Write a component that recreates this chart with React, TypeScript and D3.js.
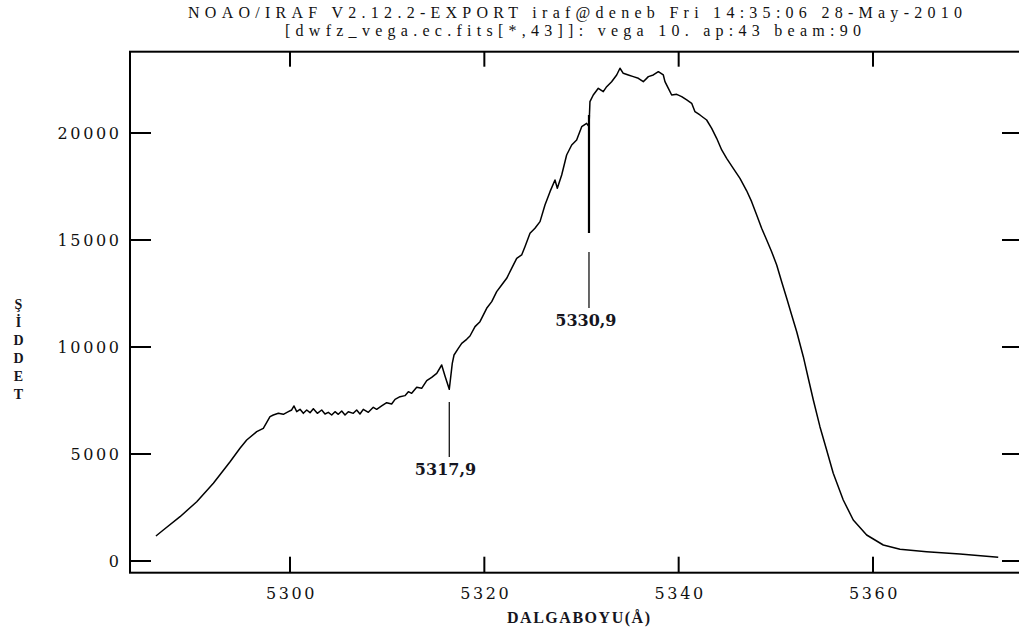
import React from "react";
import * as d3 from "d3";

const titleLines = [
  "NOAO/IRAF V2.12.2-EXPORT iraf@deneb Fri 14:35:06 28-May-2010",
  "[dwfz_vega.ec.fits[*,43]]: vega 10. ap:43 beam:90",
];
const xLabel = "DALGABOYU(Å)";
const yLabelLetters = ["Ş", "İ", "D", "D", "E", "T"];
const xTicks = [5300, 5320, 5340, 5360];
const yTicks = [0, 5000, 10000, 15000, 20000];

const wavelength = [
  5286.2, 5286.96, 5288.68, 5290.4, 5292.11, 5293.83, 5294.85, 5295.54, 5296.57, 5297.25, 5297.94,
  5298.28, 5298.8, 5299.31, 5299.83, 5300.17, 5300.41, 5300.69, 5301.03, 5301.37, 5301.72, 5302.06,
  5302.4, 5302.81, 5303.26, 5303.6, 5303.94, 5304.29, 5304.63, 5304.97, 5305.32, 5305.66, 5306.0,
  5306.51, 5306.86, 5307.2, 5307.54, 5308.06, 5308.57, 5308.92, 5309.43, 5309.95, 5310.46, 5310.81,
  5311.32, 5311.83, 5312.18, 5312.52, 5313.04, 5313.55, 5314.07, 5314.58, 5315.1, 5315.61, 5315.95,
  5316.39, 5316.7, 5316.88, 5317.32, 5317.67, 5318.18, 5318.52, 5319.04,
  5319.55, 5320.24, 5320.76, 5321.27, 5321.78, 5322.3, 5322.81, 5323.33, 5323.84, 5324.18, 5324.7,
  5325.21, 5325.73, 5326.24, 5326.76, 5327.27, 5327.51, 5327.96, 5328.47, 5328.99, 5329.5, 5330.02,
  5330.53, 5330.77, 5330.87, 5331.21, 5331.73, 5332.24, 5332.59, 5333.1, 5333.62, 5333.96, 5334.3,
  5334.82, 5335.33, 5335.85, 5336.36, 5336.88, 5337.39, 5337.91, 5338.42, 5338.59, 5338.94,
  5339.28, 5339.8, 5340.31, 5340.83, 5341.34, 5341.68, 5342.19, 5342.88, 5343.4, 5343.91, 5344.43,
  5344.94, 5345.62, 5346.31, 5347.0, 5347.51, 5348.03, 5348.54, 5349.06, 5349.57, 5350.09, 5350.6,
  5351.12, 5351.63, 5352.15, 5352.83, 5353.34, 5353.86, 5354.54, 5355.23, 5355.91, 5356.94, 5357.97,
  5359.35, 5361.06, 5362.78, 5365.52, 5368.95, 5372.89,
];
const intensity = [
  1168, 1449, 2070, 2771, 3631, 4640, 5267, 5654, 6042, 6201, 6745,
  6823, 6900, 6853, 6978, 7056, 7243, 6978, 7087, 6900, 7056, 6932,
  7118, 6900, 7056, 6869, 6947, 6823, 6978, 6853, 7010, 6823, 6978,
  6900, 7056, 6869, 7087, 6947, 7181, 7087, 7243, 7399, 7337, 7554,
  7679, 7727, 7912, 7835, 8115, 8069, 8427, 8583, 8770, 9159, 8645,
  8022, 9237, 9626, 9938, 10172, 10358, 10514, 10951,
  11184, 11808, 12119, 12586, 12897, 13210, 13677, 14145, 14299, 14688, 15312,
  15546, 15857, 16636, 17259, 17804, 17415, 18038, 18972, 19440, 19673, 20296,
  20452, 20296, 21464, 21776, 22089, 21931, 22165, 22398, 22711, 23024, 22790,
  22711, 22633, 22556, 22398, 22633, 22711, 22866, 22711, 22398, 22089,
  21776, 21808, 21698, 21543, 21387, 20997, 20842, 20608, 20219, 19752, 19206,
  18818, 18350, 17883, 17300, 16791, 16169, 15547, 15000, 14454, 13832, 13052,
  12276, 11496, 10715, 9547, 8538, 7524, 6276, 5187, 4098, 2851, 1916,
  1215, 748, 547, 435, 327, 173,
];

// line markers: label, wavelength of line, segments of the marker (intensity ranges), label position
const markerLabels = ["5317,9", "5330,9"];
const markerWave = [5316.39, 5330.77];
const markerSegments = [
  [[7430, 4860, 1.2]],
  [[20841, 15327, 2.2], [14440, 11823, 1.2]],
];
const markerLabelWave = [5316.0, 5330.45];
const markerLabelInt = [4019, 10982];

export default function App() {
  const W = 1019;
  const H = 637;
  const left = 130, right = 1023, top = 51.7, bottom = 572.7;
  const x = d3.scaleLinear().domain([5283.53, 5375.44]).range([left, right]);
  const y = d3.scaleLinear().domain([-547, 23799]).range([bottom, top]);
  const pts = wavelength.map((w, i) => [w, intensity[i]] as [number, number]);
  const line = d3.line<[number, number]>().x((d) => x(d[0])).y((d) => y(d[1]));

  const tickFont = "'DejaVu Serif', serif";
  return (
    <svg
      width={W}
      height={H}
      style={{ position: "absolute", left: 0, top: 0, background: "#fff" }}
    >
      <rect x={0} y={0} width={W} height={H} fill="#fff" />
      {/* titles */}
      <text x={188} y={18} textLength={774} lengthAdjust="spacing"
        fontFamily="'Liberation Serif', serif" fontSize={16} fill="#111">{titleLines[0]}</text>
      <text x={285} y={35.5} textLength={576} lengthAdjust="spacing"
        fontFamily="'Liberation Serif', serif" fontSize={16} fill="#111">{titleLines[1]}</text>

      {/* frame */}
      <rect x={left} y={top} width={right - left} height={bottom - top}
        fill="none" stroke="#000" strokeWidth={2} />

      {/* x ticks */}
      {xTicks.map((t) => (
        <g key={"x" + t}>
          <line x1={x(t)} x2={x(t)} y1={bottom} y2={bottom - 16} stroke="#000" strokeWidth={2} />
          <line x1={x(t)} x2={x(t)} y1={top} y2={top + 15} stroke="#000" strokeWidth={2} />
          <text x={x(t) + 1.5} y={599} textAnchor="middle" fontFamily={tickFont}
            fontSize={16} letterSpacing={2.6} fill="#111">{t}</text>
        </g>
      ))}
      {/* y ticks */}
      {yTicks.map((t) => (
        <g key={"y" + t}>
          <line x1={left} x2={left + 21} y1={y(t)} y2={y(t)} stroke="#000" strokeWidth={2} />
          <line x1={right} x2={right - 21} y1={y(t)} y2={y(t)} stroke="#000" strokeWidth={2} />
          <text x={121.5} y={y(t) + 5.8} textAnchor="end" fontFamily={tickFont}
            fontSize={16} letterSpacing={2.6} fill="#111">{t}</text>
        </g>
      ))}

      {/* axis labels */}
      <text x={507} y={623} textLength={143} lengthAdjust="spacing"
        fontFamily="'Liberation Serif', serif" fontWeight="bold" fontSize={16} fill="#151520">{xLabel}</text>
      {yLabelLetters.map((c, i) => (
        <text key={"yl" + i} x={18.5} y={309 + i * 18} textAnchor="middle"
          fontFamily="'Liberation Serif', serif" fontWeight="bold" fontSize={14} fill="#151520">{c}</text>
      ))}

      {/* spectrum */}
      <path d={line(pts) || ""} fill="none" stroke="#000" strokeWidth={1.5} strokeLinejoin="round" />

      {/* markers */}
      {markerLabels.map((lab, i) => (
        <g key={"m" + i}>
          {markerSegments[i].map((s, j) => (
            <line key={j} x1={x(markerWave[i])} x2={x(markerWave[i])} y1={y(s[0])} y2={y(s[1])}
              stroke="#000" strokeWidth={s[2]} />
          ))}
          <text x={x(markerLabelWave[i])} y={y(markerLabelInt[i])} textAnchor="middle"
            fontFamily={tickFont} fontWeight="bold" fontSize={16} fill="#151520">{lab}</text>
        </g>
      ))}
    </svg>
  );
}
